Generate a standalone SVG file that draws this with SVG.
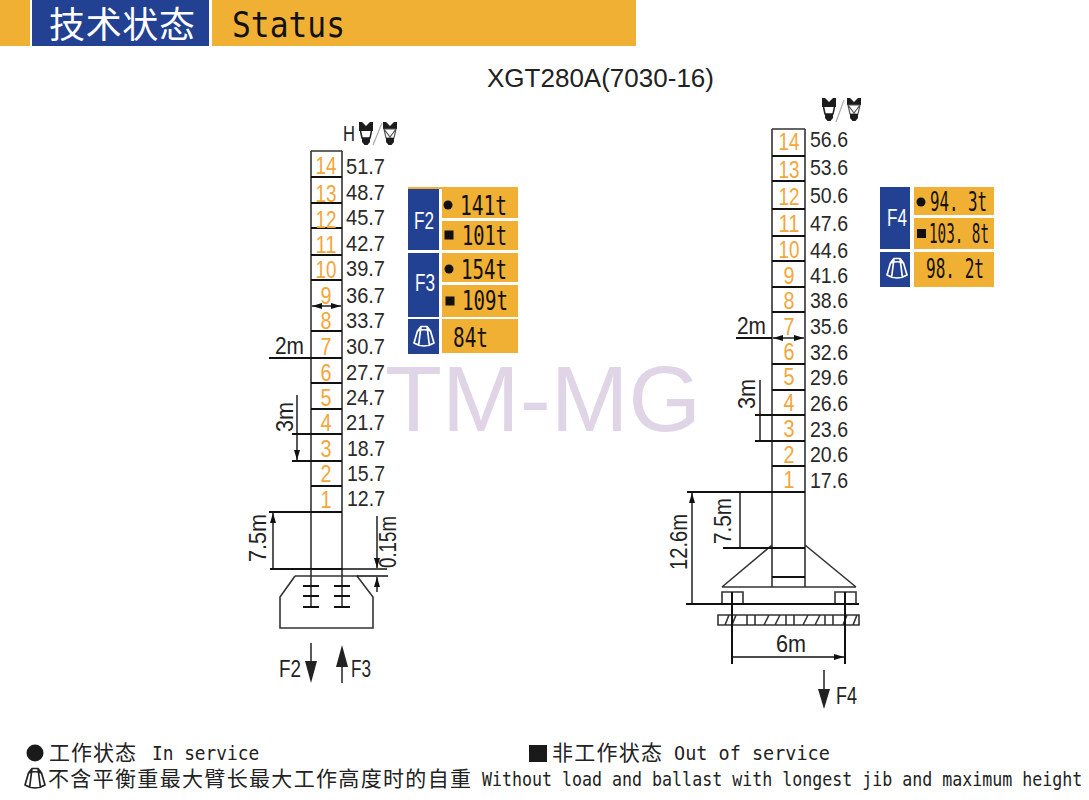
<svg xmlns="http://www.w3.org/2000/svg" width="1089" height="800" viewBox="0 0 1089 800">
<style>
.bg{fill:#fff}
.or{fill:#f0b033}
.bl{fill:#234193}
.w{fill:none;stroke:#333;stroke-width:1.6}
.k{fill:none;stroke:#111;stroke-width:2}
.t{fill:none;stroke:#111;stroke-width:1.4}
.d{fill:none;stroke:#111;stroke-width:1.400;marker-start:url(#a);marker-end:url(#a)}
.n{font-family:"Liberation Sans",Arial,sans-serif;font-size:23px;fill:#f3a63a;text-anchor:middle}
.v{font-family:"Liberation Sans",Arial,sans-serif;font-size:22px;fill:#2a2a2a}
.l{font-family:"Liberation Sans",Arial,sans-serif;font-size:23px;fill:#222}
.f{font-family:"Liberation Sans",Arial,sans-serif;font-size:24px;fill:#fff;text-anchor:middle}
.c{font-family:"DejaVu Sans Mono","Liberation Mono",monospace;font-size:27px;fill:#111}
.m{font-family:"DejaVu Sans Mono","Liberation Mono",monospace;font-size:20px;fill:#222}
.z{font-family:"Noto Sans CJK SC","Liberation Sans",sans-serif;font-size:21px;fill:#222}
</style>
<defs>
<marker id="a" viewBox="0 0 10 6" refX="10" refY="3" markerWidth="10" markerHeight="6" markerUnits="userSpaceOnUse" orient="auto-start-reverse"><path d="M0 0L10 3L0 6z" fill="#111"/></marker>
<g id="hook"><path d="M0 0H3L7 4L11 0H14V9H0z" fill="#1c1c1c"/><path d="M1.500 9L3 16H11L12.500 9" fill="#fff" stroke="#1c1c1c" stroke-width="1.500"/><path d="M3 16H11V20L8.500 23H5.500L3 20z" fill="#1c1c1c"/></g>
<g id="hook2"><path d="M0 0H3L7 4L11 0H14V7H0z" fill="#1c1c1c"/><path d="M1 7L3 16H11L13 7zM1 7L7 15L13 7" fill="#fff" stroke="#555" stroke-width="1.200"/><path d="M3 16H11V20L8.500 23H5.500L3 20z" fill="#1c1c1c"/></g>
<g id="tent"><path d="M-3-10.500H3L6.500-6L10 6Q0 12-10 6L-6.500-6zM-3-10.500L-5.500 9M3-10.500L5.500 9M-6.500-6Q0-8.500 6.500-6" fill="none" stroke="currentColor" stroke-width="1.700" stroke-linejoin="round"/></g>
</defs>
<rect class="bg" width="1089" height="800"/>
<text id="watermark" x="385" y="431" font-family="'Liberation Sans',sans-serif" font-size="92" fill="#e0d5e6" textLength="316" lengthAdjust="spacingAndGlyphs">TM-MG</text>
<g id="header">
<rect class="or" x="0" y="0" width="30" height="46"/>
<rect class="bl" x="32" y="0" width="177" height="46"/>
<rect class="or" x="212" y="0" width="424" height="46"/>
<text x="49" y="38" font-family="'Noto Sans CJK SC',sans-serif" font-size="36" fill="#fff" textLength="146">技术状态</text>
<text x="232" y="37" font-family="'DejaVu Sans Mono',monospace" font-size="36" fill="#111" textLength="113" lengthAdjust="spacingAndGlyphs">Status</text>
</g>
<text id="title" x="487" y="87" font-family="'Liberation Sans',sans-serif" font-size="25" fill="#222" textLength="227" lengthAdjust="spacingAndGlyphs">XGT280A(7030-16)</text>

<g id="left-mast">
<path class="w" d="M311 151H342M311 151V607M342 151V607"/>
<path class="k" d="M311 177H342M311 203H342M311 228H342M311 255H342M311 280H342M311 331H342M311 358H342M311 383H342M311 409H342M311 434H342M311 461H342M311 486H342M311 512H342M311 569H342"/>
<path class="d" d="M312 306H341"/>
<path class="k" d="M303 586H319M303 596H319M303 607H319M334 586H350M334 596H350M334 607H350"/>
<path class="w" d="M295 576L280 597V628H373V597L357 576H295"/>
</g>
<g id="left-dims">
<path class="k" d="M269 358H311M269 512H311M270 569H311M292 434H311M292 461H311"/>
<path class="d" d="M273 513V568M297 435V460"/>
<path class="t" d="M297 395V434M342 569H387M357 576H388"/>
<path class="t" marker-end="url(#a)" d="M377 516V568"/>
<path class="t" marker-end="url(#a)" d="M377 592V577"/>
<text class="l" x="275" y="354" textLength="29" lengthAdjust="spacingAndGlyphs">2m</text>
<text class="l" transform="translate(293 432) rotate(-90)" textLength="30" lengthAdjust="spacingAndGlyphs">3m</text>
<text class="l" transform="translate(266 562) rotate(-90)" textLength="48" lengthAdjust="spacingAndGlyphs">7.5m</text>
<text class="l" transform="translate(396 568) rotate(-90)" textLength="52" lengthAdjust="spacingAndGlyphs">0.15m</text>
</g>
<g id="left-forces">
<path d="M311 643V665" stroke="#222" stroke-width="1.500"/><path d="M305 661H317L311 683z" fill="#222"/>
<path d="M342 683V661" stroke="#222" stroke-width="1.500"/><path d="M336 667H348L342 645z" fill="#222"/>
<text class="l" x="279" y="677" textLength="22" lengthAdjust="spacingAndGlyphs">F2</text>
<text class="l" x="351" y="677" textLength="20" lengthAdjust="spacingAndGlyphs">F3</text>
</g>
<g id="left-segments">
<text class="n" x="326" y="174" textLength="21" lengthAdjust="spacingAndGlyphs">14</text>
<text class="n" x="326" y="202" textLength="21" lengthAdjust="spacingAndGlyphs">13</text>
<text class="n" x="326" y="228" textLength="21" lengthAdjust="spacingAndGlyphs">12</text>
<text class="n" x="326" y="253" textLength="21" lengthAdjust="spacingAndGlyphs">11</text>
<text class="n" x="326" y="278" textLength="21" lengthAdjust="spacingAndGlyphs">10</text>
<text class="n" x="326" y="304" textLength="11" lengthAdjust="spacingAndGlyphs">9</text>
<text class="n" x="326" y="329" textLength="11" lengthAdjust="spacingAndGlyphs">8</text>
<text class="n" x="326" y="355" textLength="11" lengthAdjust="spacingAndGlyphs">7</text>
<text class="n" x="326" y="381" textLength="11" lengthAdjust="spacingAndGlyphs">6</text>
<text class="n" x="326" y="406" textLength="11" lengthAdjust="spacingAndGlyphs">5</text>
<text class="n" x="326" y="431" textLength="11" lengthAdjust="spacingAndGlyphs">4</text>
<text class="n" x="326" y="457" textLength="11" lengthAdjust="spacingAndGlyphs">3</text>
<text class="n" x="326" y="482" textLength="11" lengthAdjust="spacingAndGlyphs">2</text>
<text class="n" x="326" y="508" textLength="11" lengthAdjust="spacingAndGlyphs">1</text>
</g>
<g id="left-heights">
<text x="343" y="141" font-family="'Liberation Sans',sans-serif" font-size="22" fill="#222" textLength="12" lengthAdjust="spacingAndGlyphs">H</text>
<use href="#hook" x="359" y="122"/><path d="M373 145L382 123" stroke="#aaa" stroke-width="1.200"/><use href="#hook2" x="383" y="122"/>
<text class="v" x="346" y="174" textLength="39" lengthAdjust="spacingAndGlyphs">51.7</text>
<text class="v" x="346" y="200" textLength="39" lengthAdjust="spacingAndGlyphs">48.7</text>
<text class="v" x="346" y="225" textLength="39" lengthAdjust="spacingAndGlyphs">45.7</text>
<text class="v" x="346" y="251" textLength="39" lengthAdjust="spacingAndGlyphs">42.7</text>
<text class="v" x="346" y="276" textLength="39" lengthAdjust="spacingAndGlyphs">39.7</text>
<text class="v" x="346" y="303" textLength="39" lengthAdjust="spacingAndGlyphs">36.7</text>
<text class="v" x="346" y="328" textLength="39" lengthAdjust="spacingAndGlyphs">33.7</text>
<text class="v" x="346" y="354" textLength="39" lengthAdjust="spacingAndGlyphs">30.7</text>
<text class="v" x="346" y="380" textLength="39" lengthAdjust="spacingAndGlyphs">27.7</text>
<text class="v" x="346" y="405" textLength="39" lengthAdjust="spacingAndGlyphs">24.7</text>
<text class="v" x="346" y="430" textLength="39" lengthAdjust="spacingAndGlyphs">21.7</text>
<text class="v" x="347" y="456" textLength="38" lengthAdjust="spacingAndGlyphs">18.7</text>
<text class="v" x="347" y="481" textLength="38" lengthAdjust="spacingAndGlyphs">15.7</text>
<text class="v" x="347" y="506" textLength="38" lengthAdjust="spacingAndGlyphs">12.7</text>
</g>
<g id="left-table">
<rect class="or" x="408" y="187" width="110" height="2"/>
<rect class="bl" x="408" y="189" width="31" height="61"/>
<rect class="bl" x="408" y="253" width="31" height="64"/>
<rect class="bl" x="408" y="319" width="31" height="35"/>
<rect class="or" x="442" y="188" width="76" height="30"/>
<rect class="or" x="442" y="221" width="76" height="29"/>
<rect class="or" x="442" y="253" width="76" height="29"/>
<rect class="or" x="442" y="285" width="76" height="32"/>
<rect class="or" x="442" y="319" width="76" height="34"/>
<text class="f" x="424" y="229" textLength="20" lengthAdjust="spacingAndGlyphs">F2</text>
<text class="f" x="425" y="291" textLength="20" lengthAdjust="spacingAndGlyphs">F3</text>
<use href="#tent" x="424" y="337" color="#fff"/>
<circle cx="448" cy="205" r="4.500" fill="#111"/><rect x="444.500" y="230.500" width="9" height="9" fill="#111"/>
<circle cx="449" cy="269" r="4.500" fill="#111"/><rect x="445.500" y="296.500" width="9" height="9" fill="#111"/>
<text class="c" x="460" y="215" textLength="47" lengthAdjust="spacingAndGlyphs">141t</text>
<text class="c" x="462" y="245" textLength="45" lengthAdjust="spacingAndGlyphs">101t</text>
<text class="c" x="461" y="279" textLength="46" lengthAdjust="spacingAndGlyphs">154t</text>
<text class="c" x="462" y="310" textLength="46" lengthAdjust="spacingAndGlyphs">109t</text>
<text class="c" x="453" y="347" textLength="35" lengthAdjust="spacingAndGlyphs">84t</text>
</g>

<g id="right-mast">
<path class="w" d="M772 129H805M772 129V587M805 129V587M722 587H856M772 545L722 587M805 545L856 587"/>
<path class="k" d="M772 156H805M772 181H805M772 209H805M772 236H805M772 261H805M772 287H805M772 312H805M772 364H805M772 390H805M772 415H805M772 441H805M772 466H805M772 492H805M772 548H805M772 577H805"/>
<path class="d" d="M773 338H804"/>
<path class="w" d="M722 592H743V604H722zM835 592H856V604H835z"/>
<path class="w" stroke-width="1.200" d="M718 615H859V625H718zM725 625L729 615M732 625L736 615M747 615V625M755 615V625M764 625L769 615M775 625L780 615M786 615V625M794 615V625M803 625L808 615M815 625L820 615M825 615V625M833 615V625M843 625L847 615M853 625L857 615"/>
</g>
<g id="right-dims">
<path class="k" d="M736 338H772M687 492H772M723 548H772M755 415H772M755 441H772M686 604H859M732 592V664M845 592V664"/>
<path class="d" d="M692 493V603M740 493V547M760 416V440M733 657H844"/>
<path class="t" d="M760 380V415"/>
<text class="l" x="737" y="334" textLength="29" lengthAdjust="spacingAndGlyphs">2m</text>
<text class="l" transform="translate(755 409) rotate(-90)" textLength="30" lengthAdjust="spacingAndGlyphs">3m</text>
<text class="l" transform="translate(731 544) rotate(-90)" textLength="46" lengthAdjust="spacingAndGlyphs">7.5m</text>
<text class="l" transform="translate(687 570) rotate(-90)" textLength="56" lengthAdjust="spacingAndGlyphs">12.6m</text>
<text class="l" x="776" y="652" textLength="30" lengthAdjust="spacingAndGlyphs">6m</text>
</g>
<g id="right-forces">
<path d="M824 670V692" stroke="#222" stroke-width="1.500"/><path d="M818 689H830L824 709z" fill="#222"/>
<text class="l" x="836" y="704" textLength="21" lengthAdjust="spacingAndGlyphs">F4</text>
</g>
<g id="right-segments">
<text class="n" x="789" y="150" textLength="21" lengthAdjust="spacingAndGlyphs">14</text>
<text class="n" x="789" y="178" textLength="21" lengthAdjust="spacingAndGlyphs">13</text>
<text class="n" x="789" y="205" textLength="21" lengthAdjust="spacingAndGlyphs">12</text>
<text class="n" x="789" y="232" textLength="21" lengthAdjust="spacingAndGlyphs">11</text>
<text class="n" x="789" y="258" textLength="21" lengthAdjust="spacingAndGlyphs">10</text>
<text class="n" x="789" y="284" textLength="11" lengthAdjust="spacingAndGlyphs">9</text>
<text class="n" x="789" y="309" textLength="11" lengthAdjust="spacingAndGlyphs">8</text>
<text class="n" x="789" y="335" textLength="11" lengthAdjust="spacingAndGlyphs">7</text>
<text class="n" x="789" y="360" textLength="11" lengthAdjust="spacingAndGlyphs">6</text>
<text class="n" x="789" y="385" textLength="11" lengthAdjust="spacingAndGlyphs">5</text>
<text class="n" x="789" y="411" textLength="11" lengthAdjust="spacingAndGlyphs">4</text>
<text class="n" x="789" y="437" textLength="11" lengthAdjust="spacingAndGlyphs">3</text>
<text class="n" x="789" y="463" textLength="11" lengthAdjust="spacingAndGlyphs">2</text>
<text class="n" x="789" y="488" textLength="11" lengthAdjust="spacingAndGlyphs">1</text>
</g>
<g id="right-heights">
<use href="#hook" x="822" y="98"/><path d="M836 122L844 100" stroke="#aaa" stroke-width="1.200"/><use href="#hook2" x="847" y="98"/>
<text class="v" x="810" y="147" textLength="38" lengthAdjust="spacingAndGlyphs">56.6</text>
<text class="v" x="810" y="175" textLength="38" lengthAdjust="spacingAndGlyphs">53.6</text>
<text class="v" x="810" y="203" textLength="38" lengthAdjust="spacingAndGlyphs">50.6</text>
<text class="v" x="810" y="231" textLength="38" lengthAdjust="spacingAndGlyphs">47.6</text>
<text class="v" x="810" y="258" textLength="38" lengthAdjust="spacingAndGlyphs">44.6</text>
<text class="v" x="810" y="283" textLength="38" lengthAdjust="spacingAndGlyphs">41.6</text>
<text class="v" x="810" y="308" textLength="38" lengthAdjust="spacingAndGlyphs">38.6</text>
<text class="v" x="810" y="334" textLength="38" lengthAdjust="spacingAndGlyphs">35.6</text>
<text class="v" x="810" y="360" textLength="38" lengthAdjust="spacingAndGlyphs">32.6</text>
<text class="v" x="810" y="385" textLength="38" lengthAdjust="spacingAndGlyphs">29.6</text>
<text class="v" x="810" y="411" textLength="38" lengthAdjust="spacingAndGlyphs">26.6</text>
<text class="v" x="810" y="437" textLength="38" lengthAdjust="spacingAndGlyphs">23.6</text>
<text class="v" x="810" y="462" textLength="38" lengthAdjust="spacingAndGlyphs">20.6</text>
<text class="v" x="810" y="488" textLength="38" lengthAdjust="spacingAndGlyphs">17.6</text>
</g>
<g id="right-table">
<rect class="bl" x="880" y="187" width="30" height="62"/>
<rect class="bl" x="880" y="252" width="30" height="35"/>
<rect class="or" x="914" y="187" width="80" height="28"/>
<rect class="or" x="914" y="218" width="80" height="31"/>
<rect class="or" x="914" y="252" width="80" height="35"/>
<text class="f" x="897" y="226" textLength="20" lengthAdjust="spacingAndGlyphs">F4</text>
<use href="#tent" x="897" y="269" color="#fff"/>
<circle cx="921" cy="202" r="4.500" fill="#111"/><rect x="917" y="229" width="9" height="9" fill="#111"/>
<text class="c" x="930" y="211" textLength="57" lengthAdjust="spacingAndGlyphs">94. 3t</text>
<text class="c" x="929" y="243" textLength="60" lengthAdjust="spacingAndGlyphs">103. 8t</text>
<text class="c" x="926" y="278" textLength="58" lengthAdjust="spacingAndGlyphs">98. 2t</text>
</g>

<g id="legend">
<circle cx="35" cy="753" r="8.500" fill="#1a1a1a"/>
<text class="z" x="49" y="760" textLength="87">工作状态</text>
<text class="m" transform="translate(152 760) scale(.89 1)">In service</text>
<rect x="529" y="745" width="18" height="17" fill="#1a1a1a"/>
<text class="z" x="552" y="760" textLength="110">非工作状态</text>
<text class="m" transform="translate(674 760) scale(.925 1)">Out of service</text>
<use href="#tent" x="35" y="779" color="#222"/>
<text class="z" x="48" y="786" textLength="423">不含平衡重最大臂长最大工作高度时的自重</text>
<text class="m" transform="translate(482 786) scale(.832 1)">Without load and ballast with longest jib and maximum height</text>
</g>
</svg>
